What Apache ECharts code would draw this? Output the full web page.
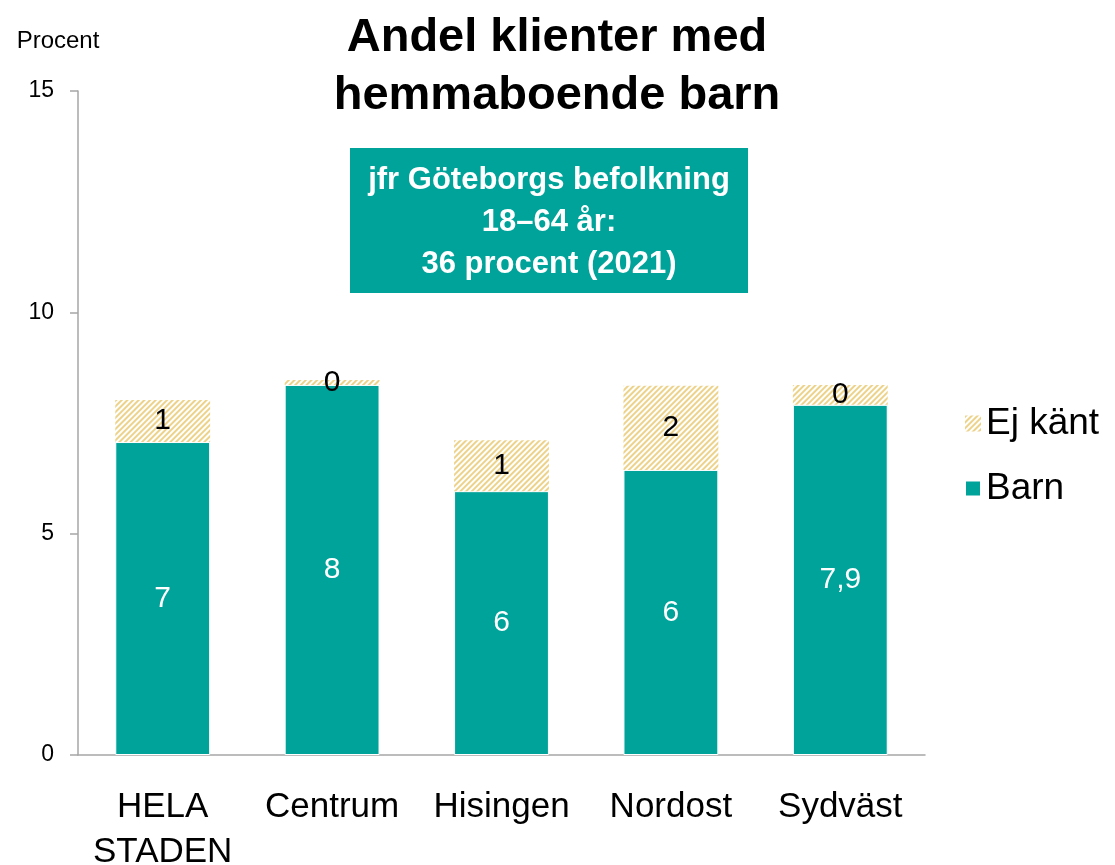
<!DOCTYPE html>
<html lang="sv">
<head>
    <meta charset="UTF-8">
    <title>Andel klienter med hemmaboende barn</title>
    <script src="https://cdn.jsdelivr.net/npm/echarts@6/dist/echarts.min.js"></script>
</head>
<body style="margin:0">
<div id="main" style="width: 1115px;height: 865px;"></div>
<script>
    // omraden och varden (procent)
    var omraden = ['HELA\nSTADEN', 'Centrum', 'Hisingen', 'Nordost', 'Sydväst']
    var barn = [7.07, 8.36, 5.96, 6.44, 7.91]
    var ejKant = [0.95, 0.11, 1.15, 1.9, 0.45]
    // etiketter som de visas i diagrammet
    var barnEtikett = ['7', '8', '6', '6', '7,9']
    var ejKantEtikett = ['1', '0', '1', '2', '0']
    var yTicks = [0, 5, 10, 15]

    var teal = '#00a39a'
    var font = 'Liberation Sans'

    var chart = echarts.init(document.getElementById('main'))
    var option = {
        textStyle: {fontFamily: font},
        title: {
            text: 'Andel klienter med\nhemmaboende barn',
            left: 552,
            textAlign: 'center',
            top: 4,
            textStyle: {fontSize: 47, fontWeight: 'bold', color: '#000', lineHeight: 58, fontFamily: font}
        },
        grid: {left: 78, right: 190, top: 91, bottom: 110, outerBoundsMode: 'none', containLabel: false},
        legend: {
            data: ['Ej känt', 'Barn'],
            orient: 'vertical',
            left: 959,
            top: 400,
            icon: 'rect',
            itemWidth: 16,
            itemHeight: 16,
            itemGap: 28,
            textStyle: {fontSize: 37, color: '#000', fontFamily: font}
        },
        xAxis: {
            type: 'category',
            data: omraden,
            axisLine: {lineStyle: {color: '#a6a6a6', width: 1.5}},
            axisTick: {length: 12, lineStyle: {color: '#a6a6a6', width: 1.5}},
            axisLabel: {interval: 0, fontSize: 35, color: '#000', margin: 30, lineHeight: 45, fontFamily: font}
        },
        yAxis: {
            type: 'value',
            min: yTicks[0],
            max: yTicks[yTicks.length - 1],
            interval: 5,
            name: 'Procent',
            nameGap: 38,
            nameTextStyle: {fontSize: 24, color: '#000', align: 'center', padding: [0, 40, 0, 0], fontFamily: font},
            axisLine: {show: true, lineStyle: {color: '#a6a6a6', width: 1.5}},
            axisTick: {show: true, length: 8, lineStyle: {color: '#a6a6a6', width: 1.5}},
            splitLine: {show: false},
            axisLabel: {fontSize: 23, color: '#000', margin: 24, fontFamily: font}
        },
        series: [
            {
                name: 'Barn',
                type: 'bar',
                stack: 'tot',
                barWidth: '56%',
                data: barn,
                itemStyle: {color: teal, borderColor: '#fff', borderWidth: 1},
                label: {
                    show: true,
                    position: 'inside',
                    color: '#fff',
                    fontSize: 30,
                    fontFamily: font,
                    formatter: function (p) { return barnEtikett[p.dataIndex] }
                }
            },
            {
                name: 'Ej känt',
                type: 'bar',
                stack: 'tot',
                data: ejKant,
                itemStyle: {
                    color: '#ffffff',
                    decal: {
                        symbol: 'rect',
                        symbolSize: 1,
                        dashArrayX: [1, 0],
                        dashArrayY: [2, 2],
                        rotation: -Math.PI / 4,
                        color: '#edd28a',
                        backgroundColor: '#ffffff'
                    }
                },
                label: {
                    show: true,
                    position: 'inside',
                    color: '#000',
                    fontSize: 30,
                    fontFamily: font,
                    formatter: function (p) { return ejKantEtikett[p.dataIndex] }
                }
            }
        ],
        graphic: [
            {
                type: 'group',
                left: 350,
                top: 148,
                children: [
                    {type: 'rect', shape: {x: 0, y: 0, width: 398, height: 145}, style: {fill: teal}},
                    {
                        type: 'text',
                        x: 199,
                        y: 74,
                        style: {
                            text: 'jfr Göteborgs befolkning\n18–64 år:\n36 procent (2021)',
                            fill: '#fff',
                            font: 'bold 31px "Liberation Sans"',
                            lineHeight: 42,
                            align: 'center',
                            verticalAlign: 'middle'
                        }
                    }
                ]
            }
        ]
    }
    chart.setOption(option)
</script>
</body>
</html>
